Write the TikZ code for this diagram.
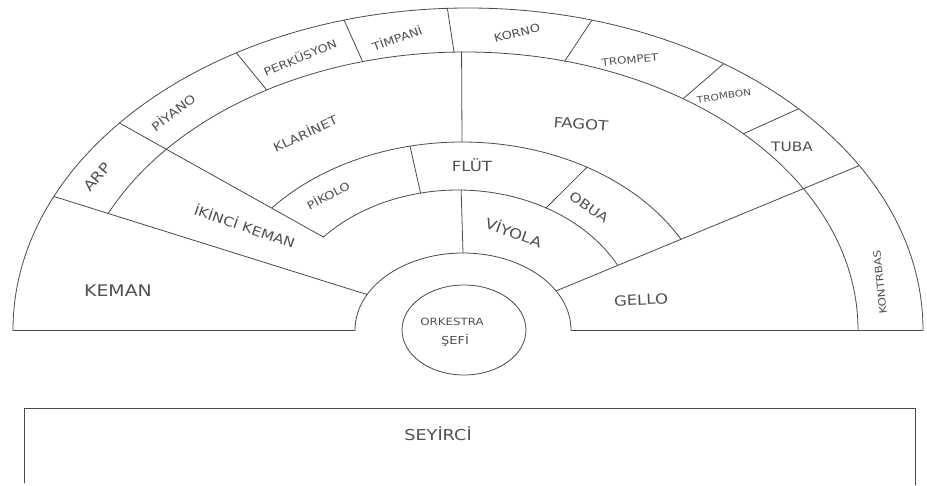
\documentclass[tikz,border=0pt]{standalone}
\usepackage{fontspec}
\usepackage{graphicx}
\usetikzlibrary{shapes.geometric}
\newfontfamily\hand{DejaVu Sans}
\definecolor{ink}{HTML}{4A4A4A}
\definecolor{pen}{HTML}{505050}
\tikzset{
  seat/.style={draw=ink, line width=0.8pt, line cap=round, line join=round},
  lbl/.style={text=pen, inner sep=0pt},
}
% point on a ring: centre, x radius, y radius, angle, name
\newcommand{\ringpt}[5]{\path (#1) ++(#4:#2pt and #3pt) coordinate (#5);}
% arc of a ring: centre, x radius, y radius, from, to
\newcommand{\ringarc}[5]{\draw[seat] (#1) ++(#4:#2pt and #3pt) arc[start angle=#4, end angle=#5, x radius=#2pt, y radius=#3pt];}
% label: name, position, angle, size, text
\newcommand{\seatlbl}[5]{\node[lbl, rotate=#3, font=\hand\fontsize{#4}{#4}\selectfont] (#1) at (#2) {\scalebox{1.18}[1]{#5}};}

\begin{document}
\begin{tikzpicture}[x=1pt, y=1pt]
  \useasboundingbox (0,0) rectangle (927,-485);
  \coordinate (cO) at (468,-330);
  \coordinate (cA) at (465,-330);
  \coordinate (cB) at (462,-330);
  \coordinate (cC) at (458,-330);
  \coordinate (cD) at (463,-330);
  % rings
  \ringarc{cO}{455}{322}{0}{180}
  \ringarc{cA}{393}{278}{0}{155.3}
  \ringarc{cB}{250}{188}{28.8}{139.5}
  \ringarc{cC}{180}{140}{27.5}{138.4}
  \ringarc{cD}{108}{77}{0}{180}
  % points on the rings
  \foreach \n/\t in {o-l/180, o-kem/155.5, o-arp/140, o-piy/120.6, o-per/105.8, o-tim/92.6,
                     o-kor/74.2, o-tro/55.8, o-trb/43.4, o-gel/30.7, o-r/0}
    {\ringpt{cO}{455}{322}{\t}{\n}}
  \foreach \n/\t in {a-piy/120.3, a-per/105.1, a-tim/91.6, a-kla/90.5, a-kor/75.3, a-tro/56.3, a-trb/44.9}
    {\ringpt{cA}{393}{278}{\t}{\n}}
  \foreach \n/\t in {b-pik/102, b-kla/90, b-flu/60}
    {\ringpt{cB}{250}{188}{\t}{\n}}
  \foreach \n/\t in {c-arp/138.4, c-pik/102, c-viy/89, c-flu/60.7}
    {\ringpt{cC}{180}{140}{\t}{\n}}
  \foreach \n/\t in {d-l/180, d-kem/152.6, d-viy/90, d-gel/30.5, d-r/0}
    {\ringpt{cD}{108}{77}{\t}{\n}}
  % section borders
  \foreach \a/\b in {o-kem/d-kem, o-arp/c-arp, o-gel/d-gel, o-piy/a-piy, o-per/a-per,
                     o-tim/a-tim, o-kor/a-kor, o-tro/a-tro, o-trb/a-trb, a-kla/b-kla,
                     b-pik/c-pik, b-flu/c-flu, c-viy/d-viy, o-l/d-l, d-r/o-r}
    \draw[seat] (\a) -- (\b);
  % conductor
  \node[seat, ellipse, minimum width=124pt, minimum height=90pt, inner sep=0pt] (sef) at (464,-330) {};
  \seatlbl{sef-a}{452,-322}{0}{10}{ORKESTRA}
  \seatlbl{sef-b}{455,-341}{0}{11}{ŞEFİ}
  % labels
  \seatlbl{kem}{118,-291}{0}{16}{KEMAN}
  \seatlbl{kem2}{245,-226}{-19}{13}{İKİNCİ KEMAN}
  \seatlbl{arp}{97,-177}{50}{14}{ARP}
  \seatlbl{piy}{173,-112}{38}{12}{PİYANO}
  \seatlbl{per}{300,-57}{23}{11}{PERKÜSYON}
  \seatlbl{tim}{397,-38}{20}{11}{TİMPANİ}
  \seatlbl{kor}{517,-33}{14}{11}{KORNO}
  \seatlbl{tro}{630,-60}{6}{10}{TROMPET}
  \seatlbl{trb}{724,-96}{8}{9}{TROMBON}
  \seatlbl{tub}{792,-147}{0}{13}{TUBA}
  \seatlbl{fag}{581,-124}{-4}{14}{FAGOT}
  \seatlbl{kla}{305,-133}{25}{12}{KLARİNET}
  \seatlbl{flu}{472,-165}{0}{14}{FLÜT}
  \seatlbl{pik}{328,-195}{28}{11}{PİKOLO}
  \seatlbl{obu}{589,-207}{-35}{13}{OBUA}
  \seatlbl{viy}{514,-232}{-20}{14}{VİYOLA}
  \seatlbl{gel}{641,-300}{3}{14}{GELLO}
  \seatlbl{kon}{880,-282}{96}{10}{KONTRBAS}
  % audience
  \coordinate (st-l) at (24,-483);
  \coordinate (st-c) at (915,-408);
  \coordinate (st-r) at (915,-485);
  \draw[seat] (st-l) |- (st-c) -- (st-r);
  \seatlbl{sey}{438,-434}{0}{15}{SEYİRCİ}
\end{tikzpicture}
\end{document}
